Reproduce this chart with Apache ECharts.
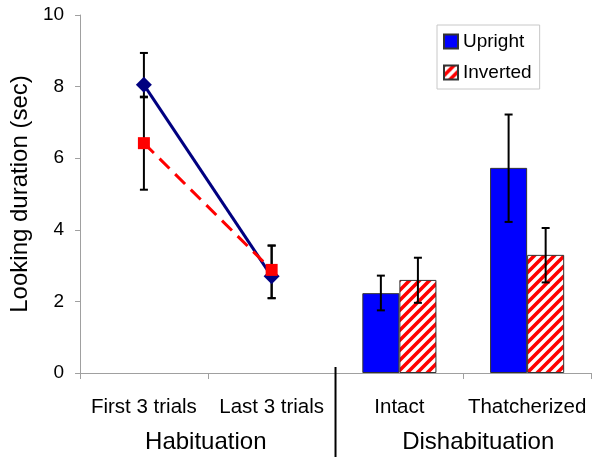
<!DOCTYPE html>
<html>
<head>
<meta charset="utf-8">
<script src="https://cdn.jsdelivr.net/npm/echarts@6/dist/echarts.min.js"></script>
<style>
  html, body { margin: 0; padding: 0; background: #fff; }
  #main { width: 600px; height: 462px; }
</style>
</head>
<body>
<div id="main"></div>
<script>
const categories = ['First 3 trials', 'Last 3 trials', 'Intact', 'Thatcherized'];

// habituation phase (lines)
const uprightLine = [8.05, 2.70, '-', '-'];
const invertedLine = [6.42, 2.88, '-', '-'];
// error bar ends as drawn (low, high)
const uprightLineLow = [7.70, 2.09, null, null];
const uprightLineHigh = [8.94, 3.56, null, null];
const invertedLineLow = [5.12, 2.09, null, null];
const invertedLineHigh = [7.72, 3.56, null, null];

// dishabituation phase (bars)
const uprightBar = ['-', '-', 2.23, 5.73];
const invertedBar = ['-', '-', 2.60, 3.30];
const uprightBarLow = [null, null, 1.75, 4.22];
const uprightBarHigh = [null, null, 2.72, 7.22];
const invertedBarLow = [null, null, 1.96, 2.53];
const invertedBarHigh = [null, null, 3.22, 4.05];

const yTicks = [0, 2, 4, 6, 8, 10];
const groups = ['Habituation', 'Dishabituation'];

const font = '"Liberation Sans", Arial, sans-serif';
const barGapRatio = 0.42;

// red diagonal hatch for the inverted bars
function makeHatch() {
  const c = document.createElement('canvas');
  c.width = 10; c.height = 10;
  const g = c.getContext('2d');
  g.fillStyle = '#fff';
  g.fillRect(0, 0, 10, 10);
  g.strokeStyle = '#ff0000';
  g.lineWidth = 3.6;
  g.beginPath();
  g.moveTo(-5, 5); g.lineTo(5, -5);
  g.moveTo(0, 10); g.lineTo(10, 0);
  g.moveTo(5, 15); g.lineTo(15, 5);
  g.stroke();
  return c;
}
const hatch = { image: makeHatch(), repeat: 'repeat' };

const lineErrData = [];
const barErrData = [];
categories.forEach((c, i) => {
  if (uprightLineLow[i] != null) lineErrData.push([i, uprightLineLow[i], uprightLineHigh[i], 0]);
  if (invertedLineLow[i] != null) lineErrData.push([i, invertedLineLow[i], invertedLineHigh[i], 0]);
  if (uprightBarLow[i] != null) barErrData.push([i, uprightBarLow[i], uprightBarHigh[i], -1]);
  if (invertedBarLow[i] != null) barErrData.push([i, invertedBarLow[i], invertedBarHigh[i], 1]);
});

function errorBar(params, api) {
  const i = api.value(0), lo = api.value(1), hi = api.value(2), side = api.value(3);
  const band = api.size([1, 0])[0];
  const barW = band * (1 - barGapRatio) / 2;
  const x = api.coord([i, lo])[0] + side * barW / 2;
  const top = api.coord([i, hi])[1];
  const bot = api.coord([i, lo])[1];
  const cap = 4;
  const style = { stroke: '#000', lineWidth: 2 };
  return {
    type: 'group',
    children: [
      { type: 'line', shape: { x1: x, y1: top, x2: x, y2: bot }, style },
      { type: 'line', shape: { x1: x - cap, y1: top, x2: x + cap, y2: top }, style },
      { type: 'line', shape: { x1: x - cap, y1: bot, x2: x + cap, y2: bot }, style }
    ]
  };
}

const chart = echarts.init(document.getElementById('main'));

const option = {
  animation: false,
  backgroundColor: '#fff',
  textStyle: { fontFamily: font },
  grid: { left: 80, right: 9, top: 15, bottom: 89 },
  legend: {
    data: ['Upright', 'Inverted'],
    orient: 'vertical',
    left: 437,
    top: 25,
    padding: [7, 8, 7, 6],
    itemGap: 12,
    itemWidth: 14,
    itemHeight: 14,
    icon: 'rect',
    borderColor: '#c8c8c8',
    borderWidth: 1,
    textStyle: { fontSize: 19, color: '#000', fontFamily: font }
  },
  xAxis: {
    type: 'category',
    data: categories,
    axisLine: { lineStyle: { color: '#a0a0a0', width: 1 } },
    axisTick: { show: true, interval: 0, length: 6, lineStyle: { color: '#a0a0a0' } },
    axisLabel: { interval: 0, fontSize: 20.5, color: '#000', margin: 24, fontFamily: font }
  },
  yAxis: {
    type: 'value',
    min: yTicks[0],
    max: yTicks[yTicks.length - 1],
    interval: 2,
    name: 'Looking duration (sec)',
    nameLocation: 'middle',
    nameGap: 45,
    nameTextStyle: { fontSize: 24, color: '#000', fontFamily: font },
    splitLine: { show: false },
    axisLine: { show: true, lineStyle: { color: '#a0a0a0', width: 1 } },
    axisTick: { show: true, length: 5, lineStyle: { color: '#a0a0a0' } },
    axisLabel: { fontSize: 19, color: '#000', margin: 16, fontFamily: font }
  },
  series: [
    {
      name: 'Upright',
      type: 'bar',
      data: uprightBar,
      barGap: '0%',
      barCategoryGap: (barGapRatio * 100) + '%',
      itemStyle: { color: '#0000ff', borderColor: '#333', borderWidth: 1 },
      z: 2
    },
    {
      name: 'Inverted',
      type: 'bar',
      data: invertedBar,
      itemStyle: { color: hatch, borderColor: '#333', borderWidth: 1 },
      z: 2
    },
    {
      name: 'line-err',
      type: 'custom',
      renderItem: errorBar,
      data: lineErrData,
      z: 1,
      silent: true
    },
    {
      name: 'Upright habituation',
      type: 'line',
      data: uprightLine,
      symbol: 'diamond',
      symbolSize: 16,
      lineStyle: { color: '#000080', width: 3 },
      itemStyle: { color: '#000080' },
      z: 3
    },
    {
      name: 'Inverted habituation',
      type: 'line',
      data: invertedLine,
      symbol: 'rect',
      symbolSize: 12,
      lineStyle: { color: '#ff0000', width: 3, type: [14, 8] },
      itemStyle: { color: '#ff0000' },
      z: 4
    },
    {
      name: 'bar-err',
      type: 'custom',
      renderItem: errorBar,
      data: barErrData,
      z: 5,
      silent: true
    }
  ]
};

chart.setOption(option);

// separator between the two phases and the phase labels, placed from the axis
const pLast = chart.convertToPixel({ xAxisIndex: 0 }, 'Last 3 trials');
const pIntact = chart.convertToPixel({ xAxisIndex: 0 }, 'Intact');
const pFirst = chart.convertToPixel({ xAxisIndex: 0 }, 'First 3 trials');
const pThatch = chart.convertToPixel({ xAxisIndex: 0 }, 'Thatcherized');
const y0 = chart.convertToPixel({ yAxisIndex: 0 }, 0);
const sepX = (pLast + pIntact) / 2;

chart.setOption({
  graphic: [
    {
      type: 'line',
      shape: { x1: sepX, y1: y0 - 6, x2: sepX, y2: y0 + 84 },
      style: { stroke: '#000', lineWidth: 2 },
      z: 10
    },
    {
      type: 'text',
      x: (pFirst + pLast) / 2 - 2,
      y: y0 + 69,
      style: { text: groups[0], font: '24px ' + font, fill: '#000', align: 'center', verticalAlign: 'middle' }
    },
    {
      type: 'text',
      x: (pIntact + pThatch) / 2 + 15,
      y: y0 + 69,
      style: { text: groups[1], font: '24px ' + font, fill: '#000', align: 'center', verticalAlign: 'middle' }
    }
  ]
});
</script>
</body>
</html>
